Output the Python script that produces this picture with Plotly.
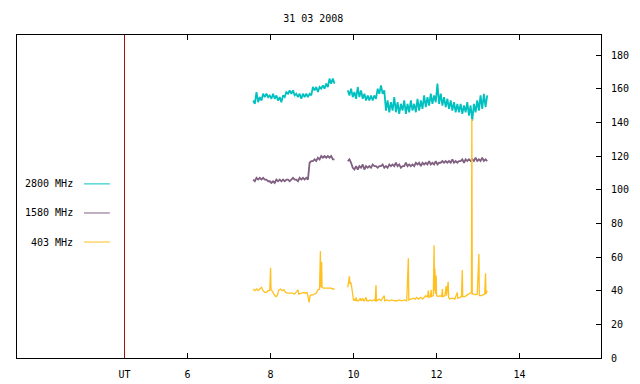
import numpy as np
import plotly.graph_objects as go

TITLE = "31 03 2008"
SERIES_NAMES = ["2800 MHz", "1580 MHz", "403 MHz"]
COLORS = ["#00c0c0", "#806080", "#ffc020"]
X_TICKS = [4.48, 6, 8, 10, 12, 14]
X_TICKTEXT = ["UT", "6", "8", "10", "12", "14"]
Y_TICKS = [0, 20, 40, 60, 80, 100, 120, 140, 160, 180]
UT_HOUR = 4.48

# regular sampling (hours) for 2800 and 1580 MHz series
STEP = 0.04
SEG1_START = 7.58
SEG2_START = 9.86

f2800_seg1 = [153, 151, 158, 152, 155, 153, 157, 155, 157, 155, 156, 154, 157, 154, 156, 153,
              155, 152, 156, 155, 158, 157, 159, 157, 159, 156, 157, 155, 157, 154, 157, 155,
              157, 155, 157, 156, 161, 159, 161, 158, 161, 160, 162, 160, 163, 161, 166, 163,
              166, 163]
f2800_seg2 = [159, 156, 160, 155, 158, 154, 161, 155, 159, 154, 157, 153, 156, 153, 156, 153,
              156, 154, 160, 157, 162, 157, 159, 147, 153, 146, 152, 147, 155, 146, 152, 145,
              151, 147, 153, 145, 151, 146, 153, 147, 151, 146, 154, 147, 153, 148, 156, 149,
              155, 150, 157, 151, 156, 152, 163, 151, 157, 150, 155, 149, 154, 148, 153, 147,
              152, 146, 151, 146, 151, 145, 150, 146, 152, 144, 150, 141, 151, 146, 153, 147,
              156, 148, 157, 149, 156]

f1580_seg1 = [106, 105, 107, 106, 107, 106, 107, 106, 106, 105, 105, 104, 105, 104, 106, 105,
              106, 105, 106, 105, 106, 106, 105, 106, 107, 106, 106, 105, 107, 106, 107, 106,
              107, 106, 116, 117, 117, 118, 117, 119, 118, 120, 119, 120, 119, 120, 119, 120,
              118, 118]
f1580_seg2 = [117, 118, 116, 113, 112, 114, 112, 114, 113, 115, 112, 114, 113, 114, 113, 115,
              114, 114, 113, 114, 114, 115, 113, 114, 113, 115, 114, 115, 114, 116, 114, 115,
              113, 114, 114, 116, 114, 115, 114, 115, 114, 116, 115, 116, 114, 116, 115, 116,
              115, 117, 115, 116, 115, 117, 115, 116, 116, 117, 116, 117, 116, 117, 116, 118,
              116, 117, 116, 117, 117, 118, 116, 118, 117, 118, 117, 118, 117, 119, 117, 118,
              117, 119, 117, 118, 117]

# 403 MHz: hand-read (time, value) points
f403_t1 = [7.58, 7.62, 7.66, 7.70, 7.74, 7.78, 7.82, 7.86, 7.90, 7.94, 7.98, 8.00, 8.01, 8.04,
           8.08, 8.12, 8.16, 8.20, 8.24, 8.28, 8.32, 8.36, 8.40, 8.46, 8.52, 8.58, 8.62, 8.66,
           8.68, 8.72, 8.76, 8.80, 8.84, 8.88, 8.93, 8.95, 8.98, 9.02, 9.06, 9.10, 9.14, 9.18,
           9.20, 9.21, 9.23, 9.24, 9.28, 9.34, 9.40, 9.46, 9.50, 9.54]
f403_v1 = [41, 40, 41, 40, 41, 42, 40, 39, 39, 40, 40, 53.6, 41, 40,
           38, 36.5, 37, 40.5, 41, 40, 40.5, 39, 38.5, 38.5, 38.5, 38, 39, 40.5,
           38, 38.5, 38.5, 39, 38.5, 39, 33, 37, 37.5, 37.5, 38, 38.5, 40.5, 41,
           63.6, 42, 57, 42, 41.5, 41.5, 41.5, 41.5, 41, 41]
f403_t2 = [9.86, 9.88, 9.90, 9.91, 9.93, 9.95, 9.98, 10.00, 10.02, 10.04, 10.06, 10.08, 10.12,
           10.16, 10.18, 10.22, 10.24, 10.26, 10.30, 10.32, 10.36, 10.40, 10.44, 10.48, 10.52,
           10.54, 10.55, 10.58, 10.62, 10.66, 10.70, 10.74, 10.75, 10.80, 10.86, 10.92, 10.98,
           11.04, 11.10, 11.16, 11.22, 11.28, 11.32, 11.33, 11.38, 11.44, 11.48, 11.52, 11.56,
           11.62, 11.66, 11.70, 11.74, 11.78, 11.80, 11.82, 11.85, 11.87, 11.88, 11.92, 11.94,
           11.95, 11.96, 11.97, 11.99, 12.00, 12.04, 12.08, 12.12, 12.14, 12.15, 12.20, 12.23,
           12.24, 12.28, 12.29, 12.32, 12.38, 12.44, 12.50, 12.51, 12.56, 12.60, 12.62, 12.63,
           12.68, 12.72, 12.76, 12.80, 12.84, 12.85, 12.86, 12.90, 12.94, 12.98, 13.02, 13.03,
           13.08, 13.12, 13.16, 13.18, 13.19, 13.22]
f403_v2 = [42, 47, 48.7, 44, 45, 43, 35.5, 34, 35, 34, 36, 34, 34,
           35.5, 34, 35.5, 34, 34, 36, 34, 34, 34.5, 34, 34.5, 34,
           43.4, 34, 34.5, 35, 34, 35.5, 37, 34, 34.5, 34, 34.5, 34,
           34, 34.5, 34, 34.5, 34, 59.2, 34.5, 35, 35.5, 35, 36, 35,
           36, 35, 36, 37, 36, 40, 36, 36.5, 40.5, 36.5, 37, 67,
           40, 53, 38, 49, 37, 36.5, 37, 36.5, 41, 36.5, 37, 42.7,
           37, 45.3, 36, 35, 35.5, 35, 39, 35.5, 36, 36.5, 52.3, 36.5,
           36.5, 37, 38, 38.5, 39, 142, 38, 38, 37.5, 38, 61.8, 37,
           37, 37.5, 38, 50.3, 38, 40]


def times(start, values):
    return np.round(start + STEP * np.arange(len(values)), 3)


LINE_WIDTHS = [1.8, 1.8, 1.3]

fig = go.Figure()
segments = [
    (times(SEG1_START, f2800_seg1), f2800_seg1, 0),
    (times(SEG2_START, f2800_seg2), f2800_seg2, 0),
    (times(SEG1_START, f1580_seg1), f1580_seg1, 1),
    (times(SEG2_START, f1580_seg2), f1580_seg2, 1),
    (f403_t1, f403_v1, 2),
    (f403_t2, f403_v2, 2),
]
for xs, ys, k in segments:
    fig.add_trace(go.Scatter(x=xs, y=ys, mode="lines", name=SERIES_NAMES[k],
                             line=dict(color=COLORS[k], width=LINE_WIDTHS[k]),
                             showlegend=False, hoverinfo="skip"))

# UT marker line
fig.add_shape(type="line", x0=UT_HOUR, x1=UT_HOUR, y0=0, y1=1, xref="x", yref="paper",
              line=dict(color="#a01010", width=1))

FONT = dict(family="DejaVu Sans Mono", size=10, color="black")

# custom legend
leg_y = [0.539, 0.449, 0.359]
for name, col, yy in zip(SERIES_NAMES, COLORS, leg_y):
    fig.add_annotation(x=0.0993, y=yy, xref="paper", yref="paper", text=name,
                       showarrow=False, xanchor="right", yanchor="middle", font=FONT)
    fig.add_shape(type="line", x0=0.1147, x1=0.159, y0=yy, y1=yy, xref="paper",
                  yref="paper", line=dict(color=col, width=1))

# page body has an 8px margin; the figure is sized to compensate
fig.update_layout(
    width=632, height=376,
    margin=dict(l=9, r=39, t=27, b=26, autoexpand=False),
    paper_bgcolor="white", plot_bgcolor="white",
    font=FONT,
    title=dict(text=TITLE, x=0.483, xanchor="center", y=1 - 10 / 376, yanchor="middle",
               yref="container", font=FONT),
    xaxis=dict(range=[1.889, 15.962], tickvals=X_TICKS, ticktext=X_TICKTEXT,
               showgrid=False, zeroline=False, showline=True, linecolor="black",
               linewidth=1, mirror="ticks", ticks="inside", ticklen=5, tickcolor="black",
               ticklabelstandoff=7, tickfont=FONT, automargin=False),
    yaxis=dict(range=[0, 191.9], tickvals=Y_TICKS, side="right", showgrid=False,
               zeroline=False, showline=True, linecolor="black", linewidth=1, mirror=True,
               ticks="inside", ticklen=5, tickcolor="black", ticklabelstandoff=7,
               tickfont=FONT, automargin=False),
)

fig.write_html("out.html")
